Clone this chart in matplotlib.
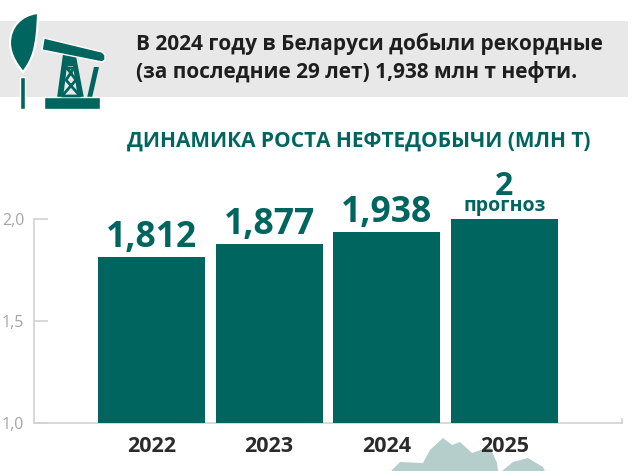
import matplotlib
matplotlib.use("Agg")
import matplotlib.pyplot as plt
from matplotlib.patches import Polygon, Rectangle, PathPatch
from matplotlib.path import Path

TEAL = "#00655F"
GREY_BAND = "#E8E8E8"
AXIS_GREY = "#D2D2D2"
TICK_TEXT = "#A5A5A5"
DARK_TEXT = "#2B2B2B"
MAP_COLOR = "#B5CDCB"

years = ["2022", "2023", "2024", "2025"]
values = [1.812, 1.877, 1.938, 2.0]
value_labels = ["1,812", "1,877", "1,938", "2"]
y_ticks = [1.0, 1.5, 2.0]
y_tick_labels = ["1,0", "1,5", "2,0"]

plt.rcParams["font.family"] = ["Open Sans", "DejaVu Sans"]

W, H = 640, 471
fig = plt.figure(figsize=(W / 100, H / 100), dpi=100)
fig.patch.set_facecolor("white")

# backdrop in pixel coordinates: band, oil pump icon, map fragment
bg = fig.add_axes([0, 0, 1, 1], zorder=0)
bg.set_xlim(0, W)
bg.set_ylim(H, 0)
bg.axis("off")
bg.add_patch(Rectangle((0, 21), 628, 76, color=GREY_BAND, lw=0))

# drop
verts = [(38, 13), (20, 15), (10, 28), (10, 43), (10, 55), (18, 66), (23, 72), (32, 60), (37, 50), (38, 13), (38, 13)]
codes = [Path.MOVETO] + [Path.CURVE4] * 9 + [Path.CLOSEPOLY]
bg.add_patch(PathPatch(Path(verts, codes), fc=TEAL, ec="white", lw=1.5))
bg.add_patch(Rectangle((20, 77), 5, 32, fc=TEAL, ec="white", lw=1))
# derrick, drawn under the beam
bg.add_patch(Polygon([(63, 54), (76, 56), (84, 98), (78, 98), (73, 66), (67, 66), (63, 98), (57, 98)], fc=TEAL, ec="none"))
bg.plot([67, 76, 62, 80, 66, 74, 66], [68, 80, 96, 96, 80, 68, 68], color=TEAL, lw=2)
bg.add_patch(Polygon([(94, 67), (99, 67), (92, 98), (87, 98)], fc=TEAL, ec="none"))
# beam
bg.add_patch(Polygon([(44, 38), (102, 52), (105, 55), (105, 60), (102, 62), (42, 50)], fc=TEAL, ec="white", lw=1))
bg.add_patch(Rectangle((44, 97), 56, 12, fc=TEAL, ec="white", lw=1))

map_pts = [(391, 471), (400, 462), (423, 463), (430, 450), (443, 438), (452, 445), (460, 442), (472, 453), (490, 447), (497, 463), (498, 471)]
bg.add_patch(Polygon(map_pts, fc=MAP_COLOR, ec="none"))
map_pts2 = [(502, 471), (513, 462), (528, 458), (543, 467), (545, 471)]
bg.add_patch(Polygon(map_pts2, fc=MAP_COLOR, ec="none"))

bg.text(136, 44, "В 2024 году в Беларуси добыли рекордные", fontsize=15, fontweight="bold",
        color="#1E1E1E", va="center", ha="left")
bg.text(136, 72, "(за последние 29 лет) 1,938 млн т нефти.", fontsize=15, fontweight="bold",
        color="#1E1E1E", va="center", ha="left")
bg.text(359, 141, "ДИНАМИКА РОСТА НЕФТЕДОБЫЧИ (МЛН Т)", fontsize=15, fontweight="bold",
        color=TEAL, va="center", ha="center")

# chart: x=34..622 px, 1.0 at y=423 px, 2.0 at y=219 px
ax = fig.add_axes([34 / W, 1 - 423 / H, 588 / W, 204 / H], zorder=1)
ax.patch.set_alpha(0)
x = range(len(years))
ax.bar(x, values, width=0.91, color=TEAL, zorder=3)
ax.set_xlim(-1, 4)
ax.set_ylim(1, 2)
ax.set_xticks(list(x))
ax.set_xticklabels(years, fontsize=15.5, fontweight="bold", color=DARK_TEXT)
ax.set_yticks(y_ticks)
ax.set_yticklabels(y_tick_labels, fontsize=11.5, color=TICK_TEXT)
ax.tick_params(axis="x", length=0, pad=9)
ax.tick_params(axis="y", direction="in", length=10, width=1.2, color=AXIS_GREY, pad=7)
for spine in ("top", "right"):
    ax.spines[spine].set_visible(False)
for spine in ("left", "bottom"):
    ax.spines[spine].set_color(AXIS_GREY)
    ax.spines[spine].set_linewidth(1.2)
# small upturned end of the baseline
ax.plot([4, 4], [1, 1.02], color=AXIS_GREY, lw=1.2, clip_on=False)

for i, (v, lab) in enumerate(zip(values[:3], value_labels[:3])):
    ax.text(i, v + 0.005, lab, ha="center", va="bottom", fontsize=25.5, fontweight="bold",
            color=TEAL, clip_on=False)
ax.text(3, 2.118, value_labels[3], ha="center", va="baseline", fontsize=23, fontweight="bold", color=TEAL, clip_on=False)
ax.text(3, 2.039, "прогноз", ha="center", va="baseline", fontsize=14, fontweight="bold", color=TEAL, clip_on=False)

fig.savefig("out.png", dpi=100, facecolor="white")
